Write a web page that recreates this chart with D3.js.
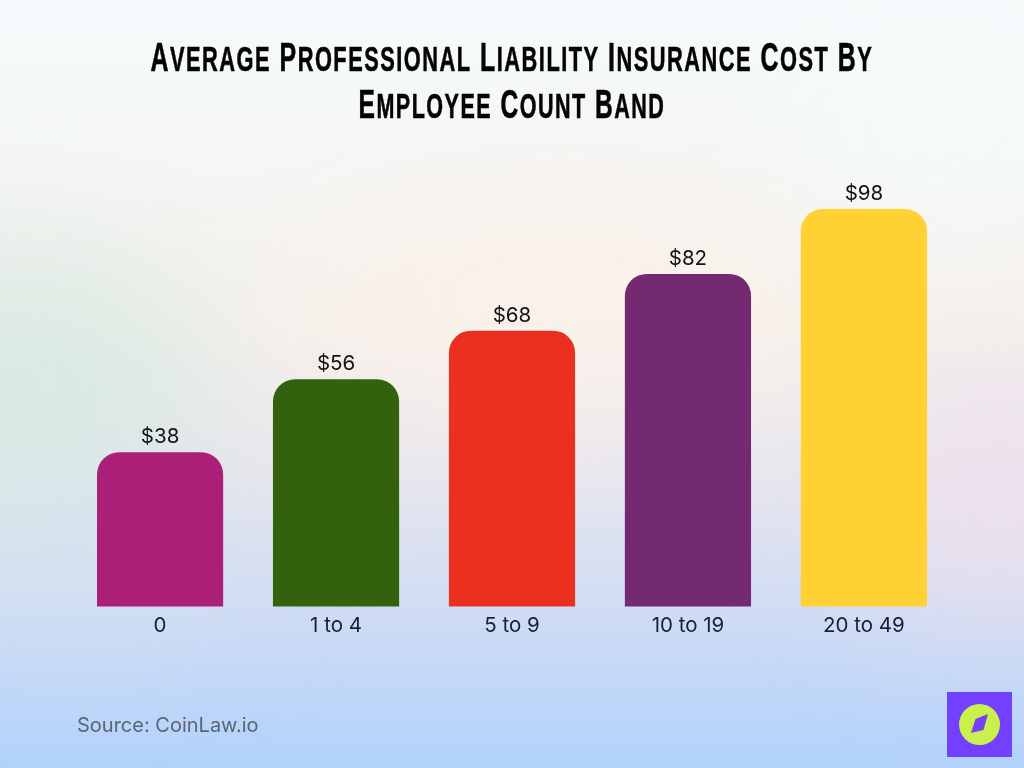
<!DOCTYPE html>
<html>
<head>
<meta charset="utf-8">
<script src="https://cdn.jsdelivr.net/npm/d3@7"></script>
<style>
html,body{margin:0;padding:0;background:#fff;overflow:hidden}
svg{display:block}
</style>
</head>
<body>
<svg id="chart" width="1024" height="768"></svg>
<script>
const categories = ["0", "1 to 4", "5 to 9", "10 to 19", "20 to 49"];
const costs = [38, 56, 68, 82, 98];
const barColors = ["#ac1f78", "#33620f", "#ec3020", "#732a70", "#ffd133"];
const titleLines = ["Average Professional Liability Insurance Cost By", "Employee Count Band"];
const titleWidths = [723, 307];
const sourceText = "Source: CoinLaw.io";

const W = 1024, H = 768;
const svg = d3.select("#chart");
const defs = svg.append("defs");

// Soft multi-colour wash behind the chart
const base = defs.append("linearGradient").attr("id", "wash")
  .attr("x1", 0).attr("y1", 0).attr("x2", 0).attr("y2", 1);
[[0, "#f6fafc"], [0.2, "#f5f7f6"], [0.42, "#f6f1ec"], [0.62, "#e7e6ee"], [0.8, "#cfdcf4"], [1, "#b2d2fc"]]
  .forEach(([o, c]) => base.append("stop").attr("offset", o).attr("stop-color", c));
defs.append("filter").attr("id", "soft")
  .attr("x", "-50%").attr("y", "-50%").attr("width", "200%").attr("height", "200%")
  .append("feGaussianBlur").attr("stdDeviation", 70);

svg.append("rect").attr("width", W).attr("height", H).attr("fill", "url(#wash)");
const blobs = svg.append("g").attr("filter", "url(#soft)");
[
  {cx: 10, cy: 375, rx: 200, ry: 120, fill: "#d6e9e1", o: 0.95},
  {cx: 560, cy: 300, rx: 260, ry: 100, fill: "#fbf1ea", o: 0.9},
  {cx: 1000, cy: 500, rx: 130, ry: 110, fill: "#f0e0ec", o: 0.9},
  {cx: 80, cy: 560, rx: 150, ry: 50, fill: "#cfe1f1", o: 0.8},
  {cx: 940, cy: 120, rx: 140, ry: 90, fill: "#f4fbfb", o: 0.9}
].forEach(b => blobs.append("ellipse")
  .attr("cx", b.cx).attr("cy", b.cy).attr("rx", b.rx).attr("ry", b.ry)
  .attr("fill", b.fill).attr("opacity", b.o));

// Title: small caps built from tall initials and shorter remaining letters,
// squeezed horizontally to a condensed width
const titleG = svg.append("g").attr("fill", "#050505").attr("stroke", "#050505").attr("stroke-width", 0.6)
  .attr("font-family", "'Liberation Sans Narrow','Liberation Sans',sans-serif").attr("font-weight", 700)
  .attr("letter-spacing", 2.4);
titleLines.forEach((line, i) => {
  const baseline = 71 + i * 47;
  const t = titleG.append("text").attr("y", baseline);
  line.split(" ").forEach((word, k) => {
    t.append("tspan").attr("font-size", 40).text((k ? " " : "") + word[0]);
    t.append("tspan").attr("font-size", 35).text(word.slice(1).toUpperCase());
  });
  const natural = t.node().getComputedTextLength();
  const sx = titleWidths[i] / natural;
  t.attr("transform", `translate(${W / 2 - titleWidths[i] / 2},0) scale(${sx},1)`);
});

// Scales
const x = d3.scaleBand().domain(categories).range([97, 927]).paddingInner(0.283);
const y = d3.scaleLinear().domain([0, 98]).range([606.5, 209]);
const radius = 22;

// Bars with rounded top corners only
const barPath = (v, c) => {
  const l = x(c), r = l + x.bandwidth(), t = y(v), b = y(0);
  const p = d3.path();
  p.moveTo(l, b);
  p.lineTo(l, t + radius);
  p.arcTo(l, t, l + radius, t, radius);
  p.lineTo(r - radius, t);
  p.arcTo(r, t, r, t + radius, radius);
  p.lineTo(r, b);
  p.closePath();
  return p.toString();
};
const font = "Inter, 'Noto Sans', sans-serif";
svg.append("g").selectAll("path").data(costs).join("path")
  .attr("d", (v, i) => barPath(v, categories[i]))
  .attr("fill", (v, i) => barColors[i]);

// Value labels
svg.append("g").selectAll("text").data(costs).join("text")
  .attr("x", (v, i) => x(categories[i]) + x.bandwidth() / 2)
  .attr("y", v => y(v) - 9)
  .attr("text-anchor", "middle")
  .attr("font-family", font).attr("font-size", 20.5).attr("fill", "#141414")
  .text(v => "$" + v);

// Category axis
const axis = svg.append("g").attr("transform", `translate(0,${y(0)})`)
  .call(d3.axisBottom(x).tickSize(0).tickPadding(11));
axis.select(".domain").remove();
axis.selectAll("text").attr("font-family", font).attr("font-size", 20.5).attr("fill", "#16203a");

// Source line
svg.append("text").attr("x", 77).attr("y", 732)
  .attr("font-family", font).attr("font-size", 20).attr("fill", "#5d6572")
  .text(sourceText);

// Compass badge
const badge = svg.append("g").attr("transform", "translate(947,692)");
badge.append("rect").attr("width", 65).attr("height", 65).attr("fill", "#7340ff");
badge.append("circle").attr("cx", 32.5).attr("cy", 32.5).attr("r", 20.5).attr("fill", "#c9f04d");
badge.append("path").attr("fill", "#7340ff")
  .attr("d", d3.line()([[41, 22], [36.5, 38], [24, 41], [28.5, 27]]) + "Z");
</script>
</body>
</html>
